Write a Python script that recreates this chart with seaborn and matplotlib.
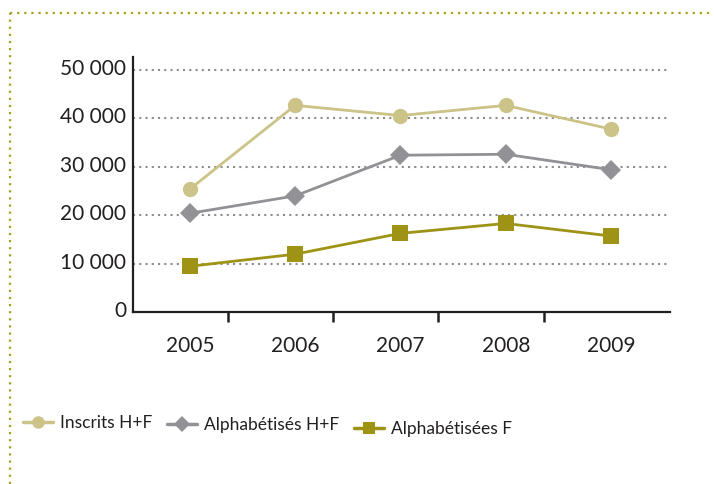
import pandas as pd
import numpy as np
import matplotlib.pyplot as plt
import matplotlib.transforms as mtransforms
from matplotlib.lines import Line2D
import seaborn as sns

# Data
years = ['2005', '2006', '2007', '2008', '2009']
inscrits = [25400, 42700, 40600, 42700, 37800]
alpha_hf = [20400, 24000, 32400, 32600, 29400]
alpha_f = [9450, 11950, 16250, 18300, 15700]
y_ticks = [0, 10000, 20000, 30000, 40000, 50000]
y_labels = ['0', '10 000', '20 000', '30 000', '40 000', '50 000']

sns.set_style('white')
plt.rcParams['font.family'] = ['Lato', 'DejaVu Sans']

df = pd.DataFrame({'pos': np.arange(len(years)),
                   'Inscrits H+F': inscrits,
                   'Alphabétisés H+F': alpha_hf,
                   'Alphabétisées F': alpha_f})

series = [('Inscrits H+F', '#cbc387', 'o', 11),
          ('Alphabétisés H+F', '#929296', 'D', 10),
          ('Alphabétisées F', '#9e9314', 's', 11)]

fig = plt.figure(figsize=(7.14, 4.84), dpi=100)
ax = fig.add_axes([133/714, 1 - 312/484, (670 - 133)/714, (312 - 57)/484])

handles = []
for name, col, mk, ms in series:
    sns.lineplot(data=df, x='pos', y=name, ax=ax, color=col, marker=mk,
                 markersize=ms, markeredgewidth=0, linewidth=2, label=name,
                 legend=False)
    handles.append(Line2D([], [], color=col, marker=mk, markersize=ms - 2,
                          markeredgewidth=0, linewidth=2.5))

ax.set_xlim(-0.54, 4.56)
ax.set_ylim(0, 52700)
ax.set_xlabel('')
ax.set_ylabel('')

# gridlines (dotted) except at zero
for v in y_ticks[1:]:
    ax.axhline(v, color='#8c8c8c', linestyle=(0, (1, 2)), linewidth=1.5, zorder=0)

ax.set_yticks(y_ticks)
ax.set_yticklabels(y_labels)
ax.tick_params(axis='y', length=0, pad=5, labelsize=15, labelcolor='#231f20')
shift = mtransforms.ScaledTranslation(0, 3/100, fig.dpi_scale_trans)
for lab in ax.get_yticklabels():
    lab.set_transform(lab.get_transform() + shift)

ax.set_xticks(range(len(years)))
ax.set_xticklabels(years)
ax.set_xticks([i + 0.36 for i in range(len(years) - 1)], minor=True)
ax.tick_params(axis='x', which='major', length=0, pad=17, labelsize=15,
               labelcolor='#231f20')
ax.tick_params(axis='x', which='minor', length=7.5, width=1.8, direction='out',
               color='#231f20', bottom=True)

for s in ['top', 'right']:
    ax.spines[s].set_visible(False)
for s in ['left', 'bottom']:
    ax.spines[s].set_color('#231f20')
    ax.spines[s].set_linewidth(1.6)

# legend entries, slightly staggered as in the original
legend_pos = [(23, 423), (167, 425), (354, 429)]
for (name, col, mk, ms), h, (lx, ly) in zip(series, handles, legend_pos):
    leg = fig.legend([h], [name], loc='center left',
                     bbox_to_anchor=(lx/714, 1 - ly/484), frameon=False,
                     fontsize=12.5, handlelength=1.7, handletextpad=0.45,
                     borderpad=0, borderaxespad=0)
    for t in leg.get_texts():
        t.set_color('#231f20')

# dotted frame on top and left
frame_col = '#a89f1e'
fig.add_artist(Line2D([10/714, 1], [1 - 13/484, 1 - 13/484], transform=fig.transFigure,
                      color=frame_col, linestyle=(0, (1, 2.2)), linewidth=1.6))
fig.add_artist(Line2D([10/714, 10/714], [0, 1 - 13/484], transform=fig.transFigure,
                      color=frame_col, linestyle=(0, (1, 2.2)), linewidth=1.6))

fig.savefig('out.png', dpi=100)
